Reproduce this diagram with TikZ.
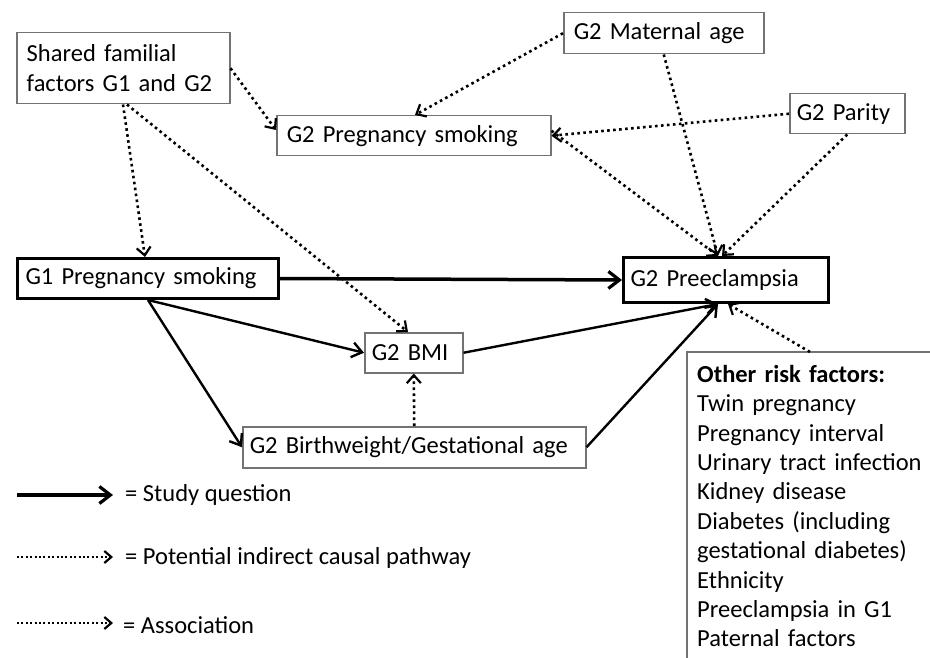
\documentclass[tikz,border=0pt]{standalone}
\usepackage{fontspec}
\setmainfont{Carlito}
\usetikzlibrary{arrows.meta}
\tikzset{
  x=1pt, y=-1pt,
  txt/.style={font=\fontsize{24.5}{29.4}\selectfont},
  boxline/.style={draw=black!55, line width=1.5pt},
  box/.style={txt, boxline, anchor=north west, inner sep=0pt, align=left},
  thickbox/.style={box, draw=black, line width=3pt},
  solidarr/.style={line width=2.4pt, -{Straight Barb[length=10pt,width=15pt,line width=2.4pt]}},
  studyarr/.style={line width=3.5pt, -{Straight Barb[length=11pt,width=17pt,line width=3.2pt]}},
  dotarr/.style={line width=2.6pt, dash pattern=on 2.6pt off 3.4pt, -{Straight Barb[length=8pt,width=14pt,line width=2.2pt]}},
  legdot/.style={line width=2pt, dash pattern=on 2pt off 2.4pt, -{Straight Barb[length=7pt,width=12pt,line width=2.2pt]}},
  legtxt/.style={txt, anchor=west, inner sep=0pt}
}
\begin{document}
\begin{tikzpicture}
\useasboundingbox (0,0) rectangle (930,658);
\fill[white] (0,0) rectangle (930,658);
\clip (0,0) rectangle (930,658);

% nodes
\node[box, minimum width=213pt, minimum height=71pt, text width=193pt, inner xsep=10pt] (sf) at (16,32) {Shared familial\\factors G1 and G2};
\node[box, minimum width=194pt, minimum height=41pt, text width=180pt, inner xsep=10pt] (ma) at (563,12) {G2 Maternal age};
\node[box, minimum width=274pt, minimum height=40pt, text width=254pt, inner xsep=10pt] (ps) at (276,115) {G2 Pregnancy smoking};
\node[box, minimum width=115pt, minimum height=40pt, text width=101pt, inner xsep=7pt] (par) at (789,93) {G2 Parity};
\node[thickbox, minimum width=261pt, minimum height=40pt, text width=245pt, inner xsep=8pt] (g1) at (16,257) {G1 Pregnancy smoking};
\node[thickbox, minimum width=205pt, minimum height=45pt, text width=191pt, inner xsep=7pt] (pe) at (622,256) {G2 Preeclampsia};
\node[box, minimum width=98pt, minimum height=40pt, text width=84pt, inner xsep=7pt] (bmi) at (364,332) {G2 BMI};
\node[box, minimum width=343pt, minimum height=41pt, text width=329pt, inner xsep=7pt] (bw) at (242,426) {G2 Birthweight/Gestational age};
\node[txt, anchor=north west, inner xsep=10pt, inner ysep=13pt, text width=260pt, align=left] (rf) at (687,352)
  {\textbf{Other risk factors:}\\Twin pregnancy\\Pregnancy interval\\Urinary tract infection\\Kidney disease\\Diabetes (including\\gestational diabetes)\\Ethnicity\\Preeclampsia in G1\\Paternal factors};
\draw[boxline] ([xshift=300pt]rf.north west) -- (rf.north west) -- ([yshift=-340pt]rf.north west);

% solid connectors
\draw[studyarr] (g1.east) -- (pe.west);
\draw[solidarr] ([xshift=132pt]g1.south west) -- (bmi.west);
\draw[solidarr] ([xshift=132pt]g1.south west) -- (bw.west);
\draw[solidarr] (bmi.east) -- ([xshift=96pt]pe.south west);
\draw[solidarr] (bw.east) -- ([xshift=96pt]pe.south west);

% dotted connectors
\draw[dotarr] (bw.north) -- (bmi.south);
\draw[dotarr] ([xshift=107pt]sf.south west) -- ([xshift=129pt]g1.north west);
\draw[dotarr] ([xshift=111pt]sf.south west) -- ([xshift=44pt]bmi.north west);
\draw[dotarr] (sf.east) -- ([yshift=-15pt]ps.north west);
\draw[dotarr] (ma.west) -- ([xshift=139pt]ps.north west);
\draw[dotarr] (ma.south) -- ([xshift=96pt]pe.north west);
\draw[dotarr] (par.west) -- (ps.east);
\draw[dotarr] ([yshift=5pt]ps.east) -- ([xshift=96pt]pe.north west);
\draw[dotarr] (par.south) -- ([xshift=100pt]pe.north west);
\draw[dotarr] ([xshift=123pt]rf.north west) -- ([xshift=106pt]pe.south west);

% legend
\coordinate (l1a) at (17,495); \coordinate (l1b) at (113,495);
\coordinate (l2a) at (17,557); \coordinate (l2b) at (113,557);
\coordinate (l3a) at (17,623); \coordinate (l3b) at (113,623);
\draw[studyarr] (l1a) -- (l1b);
\draw[legdot] (l2a) -- (l2b);
\draw[legdot] (l3a) -- (l3b);
\node[legtxt] (t1) at (125,495) {= Study question};
\node[legtxt] (t2) at (125,558) {= Potential indirect causal pathway};
\node[legtxt] (t3) at (123,625) {= Association};
\end{tikzpicture}
\end{document}
